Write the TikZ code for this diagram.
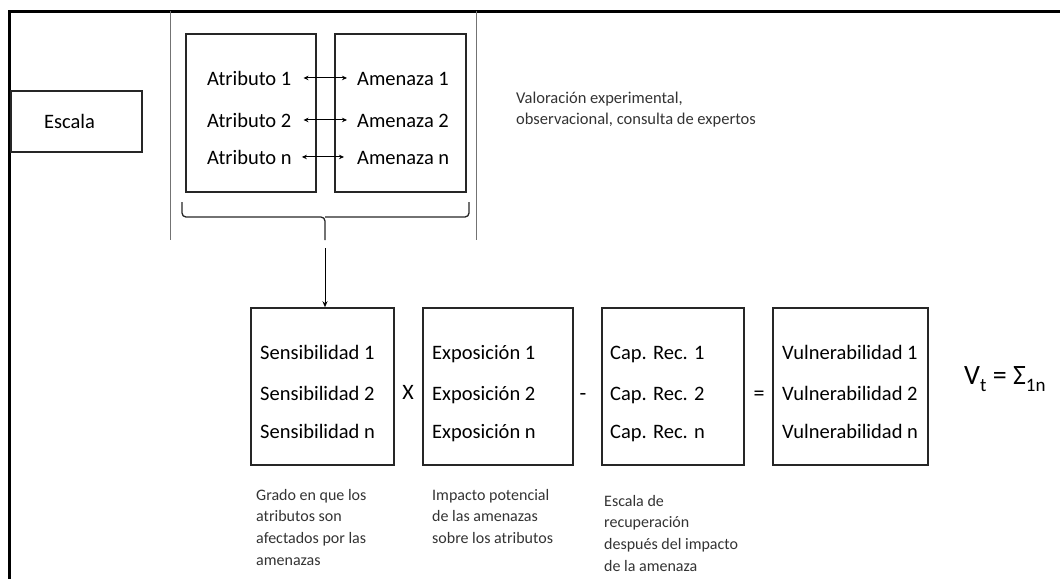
\documentclass[tikz,border=0pt]{standalone}
\usepackage{fontspec}
\setmainfont{Carlito}
\usetikzlibrary{arrows.meta}
\begin{document}
\begin{tikzpicture}[x=1pt,y=-1pt,
  box/.style={draw=black!85, line width=1.5pt, inner sep=0pt, minimum height=158pt},
  itm/.style={inner sep=0pt, anchor=base west, font=\fontsize{20.5}{24}\selectfont, text=black},
  desc/.style={inner sep=0pt, anchor=north west, align=left, font=\fontsize{16}{21.6}\selectfont, text=black!80},
  op/.style={inner sep=0pt, anchor=base, font=\fontsize{22}{24}\selectfont, text=black},
  dbl/.style={{Stealth[length=5pt,width=4.5pt]}-{Stealth[length=5pt,width=4.5pt]}, line width=1pt, black},
  sep/.style={draw=black!55, line width=0.9pt},
  brace/.style={draw=black!85, line width=1.3pt, rounded corners=4pt},
  conn/.style={-{Stealth[length=6pt,width=5pt]}, line width=1pt, black}]
\useasboundingbox (0,0) rectangle (1060,579);
\draw[line width=3pt] (1060,11) -- (9,11) -- (9,579);

% Escala
\node[box, minimum width=131pt, minimum height=61pt, font=\fontsize{20.5}{24}\selectfont, text=black] (esc) at (76.5,121.5) {Escala\hspace*{14pt}};

% separators
\draw[sep] (170,11) -- (170,240);
\draw[sep] (476,11) -- (476,240);

% top boxes
\node[box, minimum width=130pt] (atb) at (251,113) {};
\node[box, minimum width=131pt] (amb) at (400.5,113) {};
\node[itm] (a1) at (207,85) {Atributo 1};
\node[itm] (a2) at (207,127) {Atributo 2};
\node[itm] (an) at (207,164) {Atributo n};
\node[itm] (m1) at (357,85) {Amenaza 1};
\node[itm] (m2) at (357,127) {Amenaza 2};
\node[itm] (mn) at (357,164) {Amenaza n};
\draw[dbl, shorten <=12pt, shorten >=10pt] (a1.east) -- (a1.east -| m1.west);
\draw[dbl, shorten <=12pt, shorten >=10pt] (a2.east) -- (a2.east -| m2.west);
\draw[dbl, shorten <=10pt, shorten >=13pt] (an.east) -- (an.east -| mn.west);

\node[desc, font=\fontsize{16.5}{21}\selectfont] (val) at (516,91.5) {Valoración experimental,\\observacional, consulta de expertos};

% brace
\draw[brace] (182,202) |- (325,217) -- (325,240);
\draw[brace] (469,202) |- (325,217);

% bottom boxes
\node[box, minimum width=143pt, minimum height=157pt] (sens) at (322.5,386.5) {};
\node[box, minimum width=150pt, minimum height=157pt] (expo) at (498,386.5) {};
\node[box, minimum width=142pt, minimum height=157pt] (cap) at (673,386.5) {};
\node[box, minimum width=155pt, minimum height=157pt] (vul) at (850.5,386.5) {};

\coordinate (bt) at (325,248);
\draw[conn] (bt) -- (bt |- sens.north);

\node[itm] (s1) at (260,359) {Sensibilidad 1};
\node[itm] (s2) at (260,400) {Sensibilidad 2};
\node[itm] (sn) at (260,438) {Sensibilidad n};
\node[itm] (e1) at (432,359) {Exposición 1};
\node[itm] (e2) at (432,400) {Exposición 2};
\node[itm] (en) at (432,438) {Exposición n};
\node[itm] (c1) at (610,359) {Cap. Rec. 1};
\node[itm] (c2) at (610,400) {Cap. Rec. 2};
\node[itm] (cn) at (610,438) {Cap. Rec. n};
\node[itm] (v1) at (782,359) {Vulnerabilidad 1};
\node[itm] (v2) at (782,400) {Vulnerabilidad 2};
\node[itm] (vn) at (782,438) {Vulnerabilidad n};

\node[op] (opx) at (408,399) {X};
\node[op] (opm) at (583,400) {-};
\node[op] (ope) at (759,400) {=};

\node[inner sep=0pt, anchor=base west, font=\fontsize{28}{30}\selectfont, text=black] (vt) at (964,384) {V\raisebox{-0.25em}{\fontsize{19}{20}\selectfont t} = Σ\raisebox{-0.25em}{\fontsize{19}{20}\selectfont 1n}};

% descriptions
\node[desc] (dsens) at (256,489) {Grado en que los\\atributos son\\afectados por las\\amenazas};
\node[desc] (dexpo) at (432,489) {Impacto potencial\\de las amenazas\\sobre los atributos};
\node[desc] (dcap) at (604,495) {Escala de\\recuperación\\después del impacto\\de la amenaza};
\end{tikzpicture}
\end{document}
